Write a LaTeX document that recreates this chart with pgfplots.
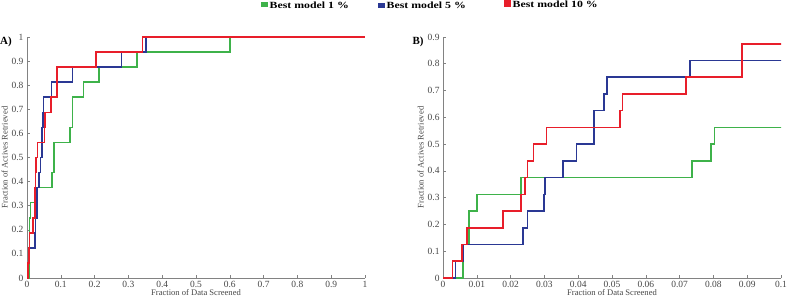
\documentclass[border=0pt]{standalone}
\usepackage{fontspec}
\setmainfont{Liberation Serif}
\usepackage{pgfplots}
\pgfplotsset{compat=1.18}
\definecolor{cgreen}{RGB}{62,178,74}
\definecolor{cblue}{RGB}{42,56,148}
\definecolor{cred}{RGB}{232,30,42}
\definecolor{axgray}{RGB}{130,130,130}
\definecolor{txtgray}{RGB}{70,70,70}

\pgfplotstableread{
x y
0 0
0.0059 0.125
0.0076 0.25
0.0101 0.3125
0.0230 0.375
0.0736 0.4375
0.0792 0.5
0.0803 0.5625
0.127 0.625
0.135 0.75
0.167 0.8125
0.213 0.875
0.326 0.9375
0.600 1
1 1
}\greendata

\pgfplotstableread{
x y
0 0
0.0037 0.0625
0.0061 0.125
0.0237 0.1875
0.0250 0.25
0.0299 0.3125
0.0302 0.375
0.0355 0.4375
0.0395 0.5
0.0446 0.625
0.0477 0.6875
0.0485 0.75
0.0730 0.8125
0.135 0.875
0.280 0.9375
0.352 1
1 1
}\bluedata

\pgfplotstableread{
x y
0 0
0.0028 0.0625
0.0057 0.125
0.0071 0.1875
0.0178 0.25
0.0230 0.3125
0.0242 0.375
0.0250 0.4375
0.0268 0.5
0.0306 0.5625
0.0523 0.625
0.0531 0.6875
0.0718 0.75
0.0885 0.875
0.205 0.9375
0.342 1
1 1
}\reddata

\begin{document}
\begin{tikzpicture}[x=1bp,y=1bp]
\path[use as bounding box] (0,0) rectangle (787,301);
\pgfplotsset{myax/.style={
  scale only axis, width=338bp, height=241bp,
  axis x line=bottom, axis y line=left,
  axis line style={-, axgray, line width=0.8bp},
  tick align=inside,
  major tick length=3bp,
  tick style={axgray, line width=0.6bp},
  ymin=0,
  clip=true,
  scaled x ticks=false, scaled y ticks=false,
  /pgf/number format/assume math mode=true,
  tick label style={font=\fontsize{9.5}{11}\selectfont, text=txtgray},
  label style={font=\fontsize{8.6}{10}\selectfont, text=txtgray},
  xlabel={Fraction of Data Screened},
  ylabel={Fraction of Actives Retrieved},
  xlabel style={yshift=5bp},
  ylabel style={yshift=-3bp},
  every axis plot/.append style={const plot mark left, line width=1.6bp, no marks},
}}
\begin{axis}[myax, at={(27bp,23bp)}, anchor=south west,
  xmin=0, xmax=1, ymax=1,
  xtick={0,0.1,...,1.01}, ytick={0,0.1,...,1.01},
  xticklabels={0,0.1,0.2,0.3,0.4,0.5,0.6,0.7,0.8,0.9,1},
  yticklabels={0,0.1,0.2,0.3,0.4,0.5,0.6,0.7,0.8,0.9,1}]
\addplot[cgreen] table {\greendata};
\addplot[cblue] table {\bluedata};
\addplot[cred] table {\reddata};
\end{axis}
\begin{axis}[myax, at={(443bp,23bp)}, anchor=south west,
  xmin=0, xmax=0.1, ymax=0.9,
  xtick={0,0.01,...,0.101}, ytick={0,0.1,...,0.91},
  xticklabels={0,0.01,0.02,0.03,0.04,0.05,0.06,0.07,0.08,0.09,0.1},
  yticklabels={0,0.1,0.2,0.3,0.4,0.5,0.6,0.7,0.8,0.9}]
\addplot[cgreen] table {\greendata};
\addplot[cblue] table {\bluedata};
\addplot[cred] table {\reddata};
\end{axis}
\node[font=\bfseries\fontsize{11}{12}\selectfont] at (6,259) {A)};
\node[font=\bfseries\fontsize{11}{12}\selectfont] at (418,259) {B)};
\begin{scope}[font=\bfseries\fontsize{9.5}{10}\selectfont]
\fill[cgreen] (261,293.7) rectangle (267.5,298.7);
\node[anchor=base west, inner sep=0pt] at (269.5,293) {\scalebox{1.25}[1]{Best model 1 \%}};
\fill[cblue] (378,292.7) rectangle (384.5,297.7);
\node[anchor=base west, inner sep=0pt] at (386.5,292.3) {\scalebox{1.25}[1]{Best model 5 \%}};
\fill[cred] (504,293.7) rectangle (511,300.5);
\node[anchor=base west, inner sep=0pt] at (512.5,293.5) {\scalebox{1.25}[1]{Best model 10 \%}};
\end{scope}
\end{tikzpicture}
\end{document}
